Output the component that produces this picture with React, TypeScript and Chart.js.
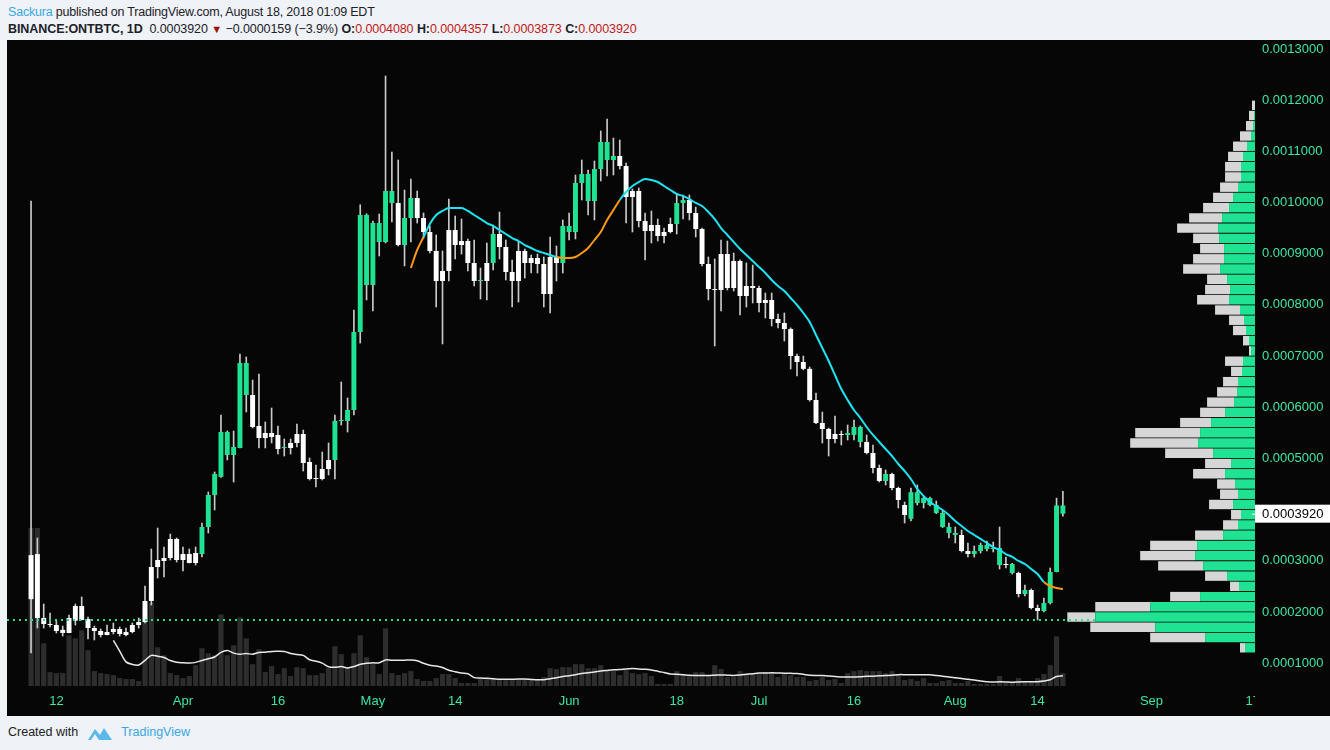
import React, { useEffect, useRef } from "react";
import { Chart, registerables } from "chart.js";

Chart.register(...registerables);

// ---- data (prices in satoshi = 1e-8 BTC) ----
const firstDay = 7; // day index counted from Mar 1 (0) -> Mar 8, 2018
const opens = [
  22500, 31300, 18820, 17650, 17450, 16500, 15890, 18300, 21160, 18620, 16860, 16280, 15500, 16080, 16670, 15500, 16080, 17450, 18040, 22140, 28780, 29950, 30540, 34250,
  30150, 31320, 29560, 31320, 36600, 42850, 46400, 55160, 50670, 52040, 68650, 62390, 56340, 53990, 54970, 54580, 52040, 52040, 53010, 54770, 49300, 45980, 45980, 47930, 49690, 57310, 57310, 59460, 74700, 97560,
  83890, 96000, 92290, 102250, 99910, 91700, 96980, 100890, 96980, 94240, 90530, 84670, 86620, 94630, 91700, 92480, 88190, 84670, 84670, 88190, 93850, 91310, 86430, 84670, 90530, 88190, 89160, 87990, 82130, 89360, 88190,
  95420, 94240, 103820, 105580, 100300, 106550, 111830, 108310, 109090, 107140, 101080, 102250, 96390, 94440, 95610, 93460, 94240, 95810, 99910, 100500, 97960, 94830, 87990, 83110, 82910, 89940, 83300, 88580, 81740, 83690,
  83300, 80370, 80960, 77240, 76460, 75290, 70010, 68840, 67500, 61420, 56920, 55750, 53790, 54770, 54580, 54600, 56140, 53210, 51060, 48130, 45590, 46960, 44220, 40900, 38200, 43400, 41290, 42270, 40900, 39340, 36600,
  35430, 35040, 31910, 31320, 31910, 33080, 32300, 32500, 29170, 29370, 27610, 23510, 24290, 20770, 20190, 21750, 27810, 40800,
];
const highs = [
  100300, 34450, 21550, 19800, 18230, 17250, 19400, 21550, 22920, 19010, 17250, 16670, 17450, 17840, 17060, 16860, 17840, 18820, 25070, 32300, 36400, 32690, 35230, 34450,
  32690, 32300, 32690, 37380, 43440, 47350, 58480, 55360, 55360, 70400, 69820, 65320, 66500, 57120, 59850, 56340, 53790, 53790, 56730, 55550, 50080, 48710, 51250, 53010, 58480, 64930, 61810, 79000, 99560, 97800,
  96400, 97760, 124730, 109870, 108310, 102450, 104600, 102250, 97960, 95420, 93660, 90530, 100690, 97370, 96780, 92870, 92680, 87210, 92090, 95610, 98150, 92680, 88770, 92290, 90920, 89750, 89940, 89360, 93270, 91510, 96590,
  97960, 105380, 108310, 106360, 108120, 113980, 116330, 112610, 112220, 107730, 102650, 102840, 97960, 98350, 96780, 95020, 96980, 101470, 101470, 101470, 99100, 95020, 89360, 88970, 92680, 92480, 90140, 88800, 88190, 87790,
  83690, 82320, 82320, 78220, 78420, 75500, 70400, 70010, 67860, 62780, 59070, 55940, 58290, 55360, 56530, 57510, 56340, 54580, 52620, 48710, 47740, 47150, 44400, 41480, 44220, 44810, 42630, 42440, 41680, 39920, 37380,
  36600, 36010, 33470, 32890, 33470, 33860, 33670, 36600, 30740, 29500, 27810, 25270, 24500, 21360, 22730, 28590, 42240, 43570,
];
const lows = [
  12000, 16860, 16860, 17060, 15890, 15300, 15890, 17450, 18430, 14710, 14520, 15100, 15500, 15690, 15300, 15300, 15890, 16860, 17840, 21360, 26630, 26830, 30150, 29760,
  28000, 29560, 29170, 30740, 35430, 39920, 46300, 49690, 45390, 52040, 59070, 55940, 52040, 52040, 53010, 50860, 50470, 50860, 52230, 47540, 45780, 44420, 45780, 46760, 45980, 56530, 55160, 58480, 72550, 80960,
  78800, 89550, 92090, 96200, 91510, 87600, 92290, 96000, 93070, 90140, 79590, 72360, 84670, 88970, 89940, 86620, 83690, 81150, 80960, 86820, 88970, 84860, 79590, 80560, 85250, 86230, 86230, 79590, 78420, 84670, 86230,
  92680, 92870, 100500, 97560, 96590, 104210, 105180, 105380, 106550, 96000, 94240, 95220, 88770, 92090, 92480, 92090, 94050, 93850, 96780, 96590, 93270, 87600, 80960, 71970, 78810, 82910, 82710, 78020, 79590, 80370,
  78610, 77440, 75880, 75480, 72940, 67470, 66110, 67300, 61200, 56800, 53010, 50470, 53010, 52620, 53600, 53600, 52230, 50860, 47150, 45390, 44810, 43830, 40310, 37380, 37770, 40900, 40310, 40700, 39200, 36500, 34450,
  33470, 31710, 30740, 30740, 31520, 31910, 31710, 28390, 28590, 27400, 22920, 23120, 20580, 18450, 20000, 21550, 27810, 38730,
];
const closes = [
  31100, 18820, 17650, 17450, 16280, 15890, 18820, 21160, 18430, 16860, 16280, 15500, 16080, 16670, 15690, 16080, 17450, 18040, 22140, 28780, 30150, 30540, 34250, 30150,
  31320, 29560, 31520, 36600, 42850, 46960, 55160, 50670, 52230, 68650, 62390, 56140, 53990, 54970, 54190, 51840, 52140, 53010, 54770, 49100, 45980, 46170, 47930, 49690, 57310, 57410, 59460, 74700, 97560, 83890,
  96000, 92290, 102250, 99910, 91700, 96980, 100890, 96980, 94240, 90530, 84670, 86620, 94630, 91700, 92480, 88190, 84670, 84770, 88190, 93850, 91310, 86430, 84670, 90530, 88190, 89160, 87990, 82130, 89360, 88190, 95420,
  94240, 103820, 105580, 100300, 106550, 111830, 108310, 109090, 107140, 101080, 102250, 96390, 94440, 95610, 93460, 94240, 95810, 99910, 100500, 97960, 94830, 87990, 83110, 82910, 89940, 83300, 88580, 81740, 83690, 83300,
  80370, 80960, 77240, 76460, 75290, 70010, 68840, 67500, 61420, 56920, 55750, 53790, 54770, 54580, 54970, 56140, 53210, 51060, 48130, 45590, 46960, 44220, 41880, 38940, 43400, 41290, 42270, 40900, 39340, 36600, 35430,
  35040, 31910, 31320, 31910, 33080, 32300, 32500, 29170, 29370, 27610, 23510, 24290, 20770, 20190, 21750, 27810, 40800, 39200,
];
const volumes = [
  318, 318, 86, 28, 26, 26, 102, 96, 112, 72, 30, 26, 24, 22, 16, 14, 14, 10, 156, 168, 78, 62, 26, 22,
  16, 20, 42, 76, 66, 62, 144, 62, 82, 138, 96, 44, 74, 28, 40, 24, 36, 20, 38, 36, 22, 22, 26, 36, 80, 64, 38, 66, 102, 58,
  44, 24, 116, 26, 22, 26, 30, 14, 10, 10, 16, 24, 24, 16, 6, 6, 6, 14, 14, 14, 14, 14, 14, 14, 14, 14, 14, 18, 36, 34, 38,
  38, 44, 44, 36, 36, 42, 32, 30, 22, 32, 26, 24, 26, 20, 4, 4, 4, 30, 24, 22, 28, 28, 22, 42, 34, 18, 18, 30, 24, 24,
  24, 28, 28, 18, 24, 22, 18, 18, 10, 12, 18, 12, 14, 6, 26, 30, 32, 30, 30, 30, 26, 30, 24, 12, 14, 10, 16, 6, 6, 10, 12,
  6, 6, 10, 4, 4, 4, 4, 20, 6, 6, 16, 10, 10, 16, 24, 42, 100, 26,
];
// bar colouring of the original study: 1 = green, 0 = white
const barTone = [
  0, 0, 0, 0, 0, 0, 0, 0, 0, 0, 0, 0, 0, 0, 0, 0, 0, 0, 0, 0, 0, 0, 0, 0,
  0, 0, 0, 1, 1, 1, 1, 1, 1, 1, 1, 0, 0, 0, 0, 0, 1, 0, 0, 0, 0, 0, 0, 0, 1, 1, 1, 1, 1, 1,
  1, 1, 1, 1, 0, 1, 1, 0, 0, 0, 0, 0, 0, 0, 0, 0, 0, 1, 0, 1, 0, 0, 0, 0, 0, 0, 0, 0, 0, 0, 1,
  1, 1, 1, 1, 1, 1, 1, 1, 0, 0, 0, 0, 0, 0, 0, 0, 0, 1, 1, 0, 0, 0, 0, 0, 0, 0, 0, 0, 0, 0,
  0, 0, 0, 0, 0, 0, 0, 0, 0, 0, 0, 0, 0, 0, 1, 1, 1, 0, 0, 0, 1, 0, 0, 0, 1, 1, 1, 1, 1, 1, 1,
  1, 0, 0, 1, 1, 1, 1, 1, 0, 1, 0, 1, 0, 0, 1, 1, 1, 1,
];
// moving average, from May 7 (day 67) on
const maStartDay = 67;
const maValues = [
  87210, 90730, 93270, 95810, 97560, 98350, 98930, 98930, 98930, 98350,
  97560, 96780, 96000, 95420, 94630, 93850, 93070, 92480, 91700, 91120,
  90530, 90140, 89750, 89360, 89160, 89160, 89360, 90140, 91120, 92680,
  94240, 96590, 98540, 100500, 102060, 103230, 104010, 104600, 104400, 104010,
  103230, 102450, 101670, 101280, 100690, 99910, 99320, 98150, 96780, 95020,
  93660, 92290, 90920, 89750, 88580, 87400, 86230, 84860, 83690, 82710,
  81350, 79980, 78420, 76660, 74120, 71580, 69040, 66300, 63560, 61420,
  59460, 57900, 56140, 54580, 53210, 51840, 50470, 48910, 47540, 45980,
  44030, 42660, 41480, 40700, 39920, 38940, 37770, 36800, 35820, 35040,
  34260, 33470, 32690, 32110, 31320, 30740, 29960, 29370, 28390, 27420,
  25850, 25070, 24680, 24490,
];
const volMaLength = 14;
const pocPrice = 18450;
// visible-range volume profile rows (row centre price, up volume, total volume)
const profileLevels = [
  13000, 15000, 17000, 19000, 21000, 23000, 25000, 27000, 29000, 31000, 33000, 35000, 37000, 39000, 41000, 43000, 45000, 47000,
  49000, 51000, 53000, 55000, 57000, 59000, 61000, 63000, 65000, 67000, 69000, 71000, 73000, 75000, 77000, 79000, 81000, 83000,
  85000, 87000, 89000, 91000, 93000, 95000, 97000, 99000, 101000, 103000, 105000, 107000, 109000, 111000, 113000, 115000, 117000, 119000,
];
const profileUp = [
  10, 50, 100, 160, 105, 55, 16, 28, 52, 60, 58, 32, 17, 14, 22, 17, 20, 30,
  24, 42, 57, 55, 44, 30, 21, 18, 17, 13, 12, 4, 6, 9, 11, 15, 26, 25,
  28, 35, 31, 31, 36, 37, 33, 26, 22, 17, 14, 14, 12, 8, 4, 2, 1, 0,
];
const profileTotal = [
  15, 105, 165, 188, 160, 85, 25, 50, 97, 115, 105, 60, 32, 24, 46, 35, 38, 62,
  50, 90, 125, 120, 75, 55, 48, 38, 32, 24, 30, 6, 12, 22, 26, 40, 58, 50,
  48, 72, 62, 55, 62, 78, 66, 52, 42, 35, 30, 30, 27, 22, 15, 9, 6, 3,
];
const priceTicks = [10000, 20000, 30000, 50000, 60000, 70000, 80000, 90000, 100000, 110000, 120000, 130000];
const dateTickDays = [11, 31, 46, 61, 74, 92, 109, 122, 137, 153, 166, 184, 200];
const dateTickLabels = ["12", "Apr", "16", "May", "14", "Jun", "18", "Jul", "16", "Aug", "14", "Sep", "17"];

// ---- view ----
const X_MIN = 3.2;
const X_MAX = 200.35;
const Y_MIN = 5530;
const Y_MAX = 131760;
const VOL_MAX = 1300;
const PROFILE_MAX = 1250;

const GREEN = "#1fe393";
const AXIS_GREEN = "#3ee6a6";
const WHITE = "#ffffff";
const WICK = "#c9c9c9";
const ORANGE = "#ff9a10";
const CYAN = "#1ee3f0";
const BG = "#060606";

const fmt = (v: number) => (v / 1e8).toFixed(7);

function buildConfig() {
  const days = opens.map((_, i) => firstDay + i);
  const volMa = [] as { x: number; y: number }[];
  for (let i = volMaLength - 1; i < volumes.length; i++) {
    let s = 0;
    for (let j = i - volMaLength + 1; j <= i; j++) s += volumes[j];
    volMa.push({ x: days[i], y: s / volMaLength });
  }
  const lastPrice = closes[closes.length - 1];

  const bgPlugin = {
    id: "bg",
    beforeDraw(chart: any) {
      const c = chart.ctx;
      c.save();
      c.fillStyle = BG;
      c.fillRect(0, 0, chart.width, chart.height);
      c.restore();
    },
    afterDraw(chart: any) {
      const c = chart.ctx;
      const area = chart.chartArea;
      // hide x labels that run under the price scale
      c.save();
      c.fillStyle = BG;
      c.fillRect(area.right, area.bottom + 1, chart.width - area.right, chart.height - area.bottom);
      // last price label
      const y = chart.scales.y.getPixelForValue(lastPrice);
      c.fillStyle = "#ffffff";
      c.fillRect(area.right, y - 9, chart.width - area.right, 18);
      c.strokeStyle = "#ffffff";
      c.beginPath();
      c.moveTo(area.right - 3, y + 0.5);
      c.lineTo(area.right, y + 0.5);
      c.stroke();
      c.fillStyle = "#000000";
      c.font = "13px 'Liberation Sans', Arial, sans-serif";
      c.textBaseline = "middle";
      c.fillText(fmt(lastPrice), area.right + 7, y + 1);
      c.restore();
    },
  };

  return {
    type: "bar",
    data: {
      datasets: [
        {
          type: "line",
          label: "poc",
          data: [
            { x: X_MIN, y: pocPrice },
            { x: X_MAX, y: pocPrice },
          ],
          xAxisID: "x",
          yAxisID: "y",
          borderColor: GREEN,
          borderWidth: 2,
          borderDash: [2, 4],
          pointRadius: 0,
          order: 0,
        },
        {
          type: "line",
          label: "ma",
          data: maValues.map((v, i) => ({ x: maStartDay + i, y: v })),
          xAxisID: "x",
          yAxisID: "y",
          borderColor: CYAN,
          borderWidth: 2,
          pointRadius: 0,
          cubicInterpolationMode: "monotone",
          segment: {
            borderColor: (ctx: any) => {
              const i = ctx.p1DataIndex;
              const k = maStartDay - firstDay + i;
              return closes[k] > maValues[i] ? ORANGE : CYAN;
            },
          },
          order: 1,
        },
        {
          type: "line",
          label: "vma",
          data: volMa,
          xAxisID: "x",
          yAxisID: "yv",
          borderColor: "#e8e8e8",
          borderWidth: 1.5,
          pointRadius: 0,
          tension: 0.3,
          order: 2,
        },
        {
          type: "bar",
          label: "bodies",
          data: days.map((d, i) => ({ x: d, y: [opens[i], closes[i]] })),
          xAxisID: "x",
          yAxisID: "y",
          backgroundColor: barTone.map((t) => (t ? GREEN : WHITE)),
          barPercentage: 0.78,
          categoryPercentage: 1,
          grouped: false,
          minBarLength: 1,
          order: 3,
        },
        {
          type: "bar",
          label: "wicks",
          data: days.map((d, i) => ({ x: d, y: [lows[i], highs[i]] })),
          xAxisID: "x",
          yAxisID: "y",
          backgroundColor: WICK,
          barThickness: 1,
          grouped: false,
          order: 4,
        },
        {
          type: "bar",
          label: "profile up",
          indexAxis: "y",
          data: profileLevels.map((p, i) => ({ y: p, x: profileUp[i] })),
          xAxisID: "xp",
          yAxisID: "yp",
          backgroundColor: GREEN,
          barPercentage: 1,
          categoryPercentage: 0.92,
          grouped: false,
          stack: "vp",
          order: 5,
        },
        {
          type: "bar",
          label: "profile down",
          indexAxis: "y",
          data: profileLevels.map((p, i) => ({ y: p, x: profileTotal[i] - profileUp[i] })),
          xAxisID: "xp",
          yAxisID: "yp",
          backgroundColor: "#d6d6d6",
          barPercentage: 1,
          categoryPercentage: 0.92,
          grouped: false,
          stack: "vp",
          order: 5,
        },
        {
          type: "bar",
          label: "volume",
          data: days.map((d, i) => ({ x: d, y: volumes[i] })),
          xAxisID: "x",
          yAxisID: "yv",
          backgroundColor: "#2d2d2d",
          barPercentage: 0.82,
          categoryPercentage: 1,
          grouped: false,
          order: 6,
        },
      ],
    },
    options: {
      responsive: false,
      animation: false,
      events: [],
      layout: { padding: 0 },
      plugins: { legend: { display: false }, tooltip: { enabled: false } },
      scales: {
        x: {
          type: "linear",
          position: "bottom",
          min: X_MIN,
          max: X_MAX,
          offset: false,
          grid: { display: false, drawTicks: false, offset: false },
          border: { display: false },
          afterBuildTicks: (s: any) => {
            s.ticks = dateTickDays.map((v) => ({ value: v }));
          },
          afterFit: (s: any) => {
            s.height = 30;
            s.paddingLeft = 0;
            s.paddingRight = 0;
          },
          ticks: {
            autoSkip: false,
            maxRotation: 0,
            minRotation: 0,
            padding: 8,
            color: AXIS_GREEN,
            font: { family: "'Liberation Sans', Arial, sans-serif", size: 13 },
            callback: (v: any) => {
              const i = dateTickDays.indexOf(v);
              return i >= 0 ? dateTickLabels[i] : "";
            },
          },
        },
        y: {
          type: "linear",
          position: "right",
          min: Y_MIN,
          max: Y_MAX,
          stacked: false,
          grid: { display: false, drawTicks: false },
          border: { display: false },
          afterBuildTicks: (s: any) => {
            s.ticks = priceTicks.map((v) => ({ value: v }));
          },
          afterFit: (s: any) => {
            s.width = 75;
            s.paddingTop = 0;
            s.paddingBottom = 0;
          },
          ticks: {
            autoSkip: false,
            padding: 7,
            color: AXIS_GREEN,
            font: { family: "'Liberation Sans', Arial, sans-serif", size: 13 },
            callback: (v: any) => fmt(v),
          },
        },
        yv: {
          type: "linear",
          display: false,
          min: 0,
          max: VOL_MAX,
          stacked: false,
        },
        yp: {
          type: "linear",
          display: false,
          min: Y_MIN,
          max: Y_MAX,
          offset: false,
        },
        xp: {
          type: "linear",
          display: false,
          reverse: true,
          min: 0,
          max: PROFILE_MAX,
          offset: false,
          stacked: true,
        },
      },
    },
    plugins: [bgPlugin],
  };
}

const headFont = "'Liberation Sans', Arial, sans-serif";
const RED = "#c11b1b";
const BLUE = "#3aa7e4";

export default function App() {
  const ref = useRef<HTMLCanvasElement>(null);
  useEffect(() => {
    const chart = new Chart(ref.current as HTMLCanvasElement, buildConfig() as any);
    return () => chart.destroy();
  }, []);
  return (
    <div
      style={{
        position: "fixed",
        left: 0,
        top: 0,
        width: 1330,
        height: 750,
        background: "#eff2f6",
        overflow: "hidden",
        fontFamily: headFont,
        color: "#1d2129",
      }}
    >
      <div style={{ position: "absolute", left: 8, top: 4, fontSize: 12.5, lineHeight: "16px", whiteSpace: "nowrap", letterSpacing: -0.2 }}>
        <span style={{ color: BLUE }}>Sackura</span> published on TradingView.com, August 18, 2018 01:09 EDT
      </div>
      <div style={{ position: "absolute", left: 8, top: 21, fontSize: 12.5, lineHeight: "16px", whiteSpace: "nowrap", letterSpacing: -0.08 }}>
        <b>BINANCE:ONTBTC, 1D</b>&nbsp; 0.0003920 <span style={{ color: "#a01010", fontSize: 11 }}>▼</span> −0.0000159 (−3.9%){" "}
        <b>O:</b>
        <span style={{ color: RED }}>0.0004080</span> <b>H:</b>
        <span style={{ color: RED }}>0.0004357</span> <b>L:</b>
        <span style={{ color: RED }}>0.0003873</span> <b>C:</b>
        <span style={{ color: RED }}>0.0003920</span>
      </div>
      <div style={{ position: "absolute", left: 7, top: 40, width: 1323, height: 676 }}>
        <canvas ref={ref} width={1323} height={676} style={{ display: "block" }} />
      </div>
      <div
        style={{
          position: "absolute",
          left: 8,
          top: 724,
          fontSize: 12.5,
          lineHeight: "17px",
          whiteSpace: "nowrap",
          display: "flex",
          alignItems: "center",
        }}
      >
        <span style={{ color: "#222" }}>Created with</span>
        <svg width="26" height="16" viewBox="0 0 26 16" style={{ margin: "0 8px 0 9px" }}>
          <path d="M1 15 L8 4 L13 10 L17 3 L25 15 Z" fill="#5bb8ea" />
          <path d="M4 15 L8 9 L12 15 Z" fill="#eff2f6" />
        </svg>
        <span style={{ color: BLUE }}>TradingView</span>
      </div>
    </div>
  );
}
